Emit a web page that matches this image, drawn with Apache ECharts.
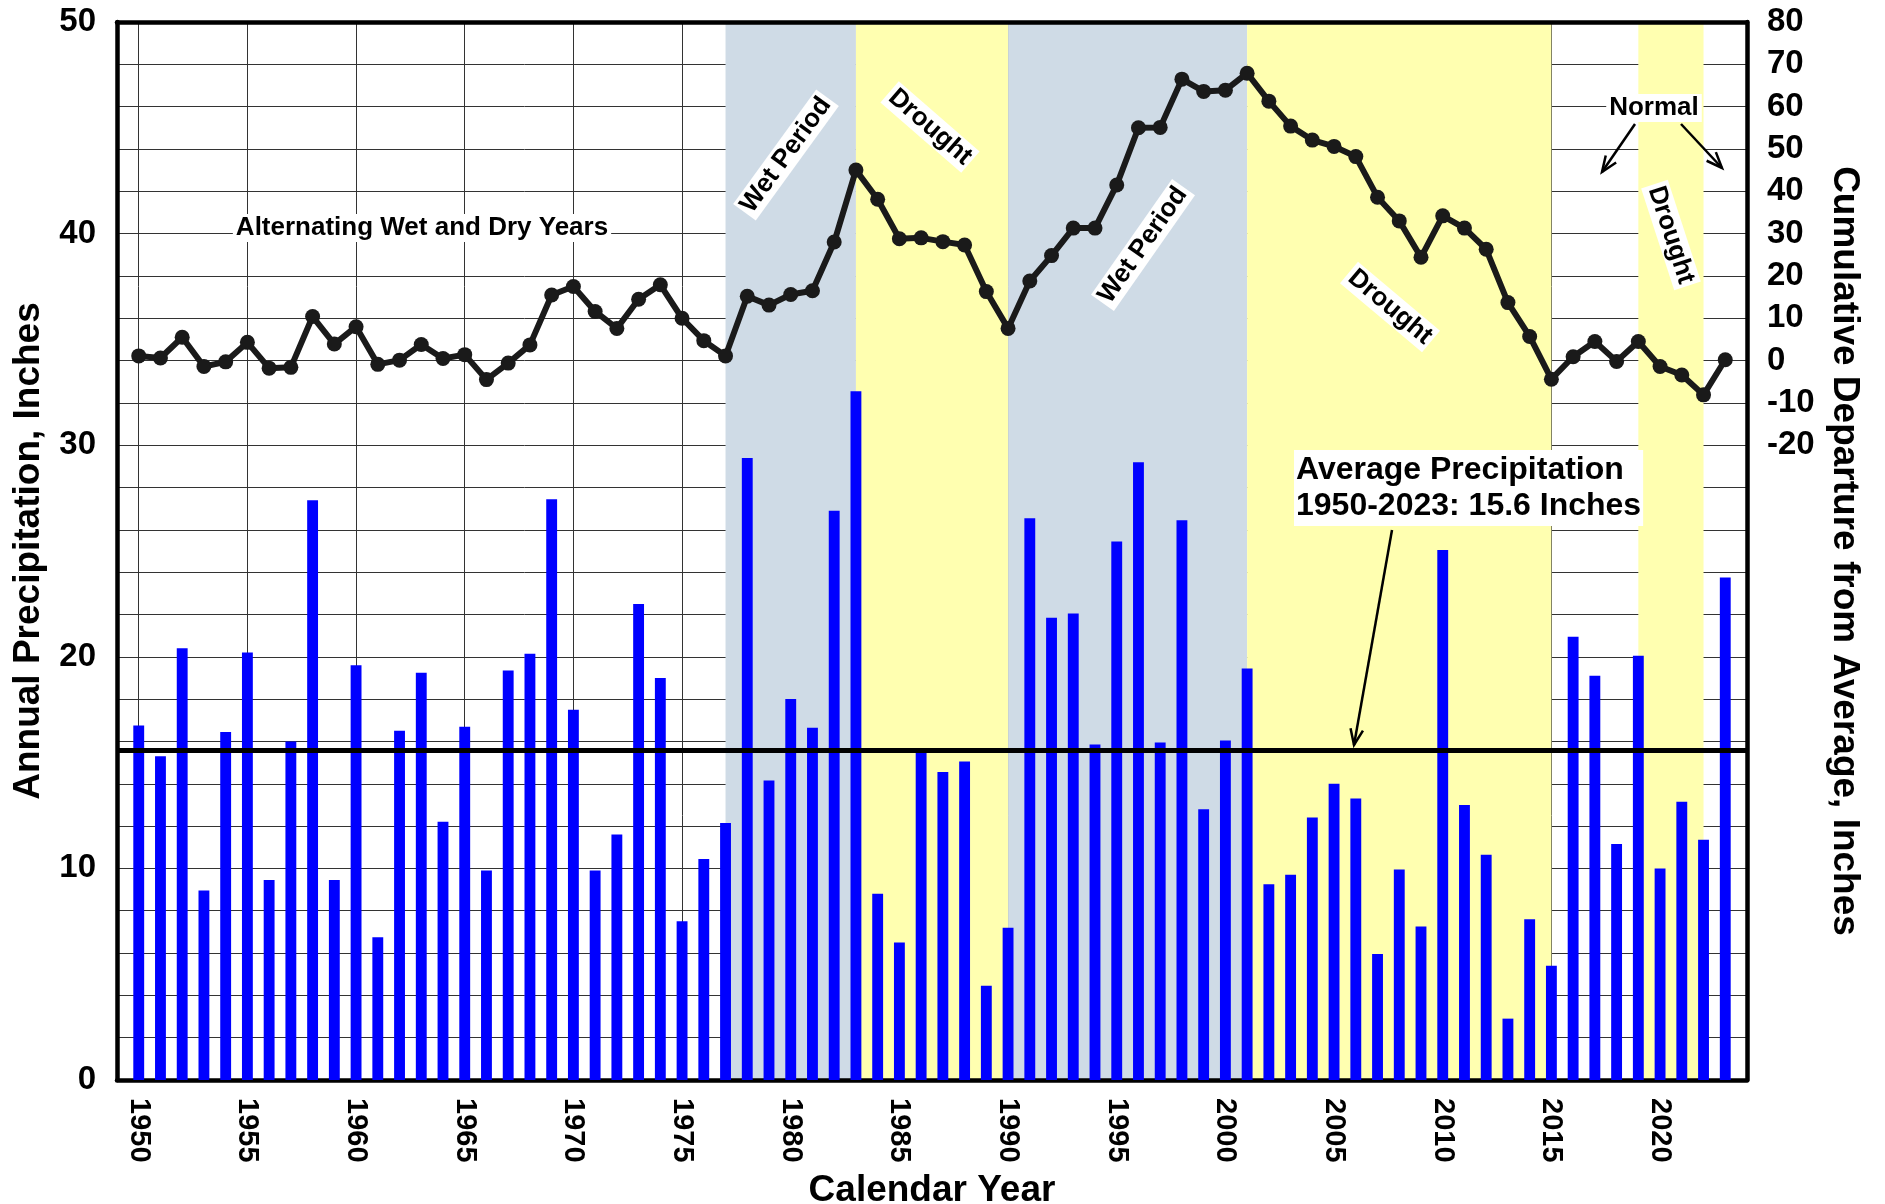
<!DOCTYPE html>
<html>
<head>
<meta charset="utf-8">
<script src="https://cdn.jsdelivr.net/npm/echarts@6/dist/echarts.min.js"></script>
<style>
  html, body { margin: 0; padding: 0; background: #fff; }
  #chart { width: 1885px; height: 1204px; }
</style>
</head>
<body>
<div id="chart"></div>
<script>
// calendar years on the x axis
const years = [
  '1950','1951','1952','1953','1954','1955','1956','1957','1958','1959',
  '1960','1961','1962','1963','1964','1965','1966','1967','1968','1969',
  '1970','1971','1972','1973','1974','1975','1976','1977','1978','1979',
  '1980','1981','1982','1983','1984','1985','1986','1987','1988','1989',
  '1990','1991','1992','1993','1994','1995','1996','1997','1998','1999',
  '2000','2001','2002','2003','2004','2005','2006','2007','2008','2009',
  '2010','2011','2012','2013','2014','2015','2016','2017','2018','2019',
  '2020','2021','2022','2023'
];

// annual precipitation, inches (bars, left axis)
const precipitation = [
  16.75, 15.3, 20.4, 8.95, 16.45, 20.2, 9.45, 16.0, 27.4, 9.45,
  19.6, 6.75, 16.5, 19.25, 12.2, 16.7, 9.9, 19.35, 20.15, 27.45,
  17.5, 9.9, 11.6, 22.5, 19.0, 7.5, 10.45, 12.15, 29.4, 14.15,
  18.0, 16.65, 26.9, 32.55, 8.8, 6.5, 15.5, 14.55, 15.05, 4.45,
  7.2, 26.55, 21.85, 22.05, 15.85, 25.45, 29.2, 15.95, 26.45, 12.8,
  16.05, 19.45, 9.25, 9.7, 12.4, 14.0, 13.3, 5.95, 9.95, 7.25,
  25.05, 13.0, 10.65, 2.9, 7.6, 5.4, 20.95, 19.1, 11.15, 20.05,
  10.0, 13.15, 11.35, 23.75
];

// cumulative departure from average, inches (line, right axis)
const cumulativeDeparture = [
  1.1, 0.6, 5.5, -1.4, -0.3, 4.3, -1.8, -1.6, 10.4, 3.9,
  8.0, -0.9, 0.1, 3.8, 0.5, 1.4, -4.5, -0.6, 3.7, 15.5,
  17.5, 11.6, 7.6, 14.5, 17.9, 10.0, 4.7, 1.1, 15.2, 13.1,
  15.6, 16.5, 28.0, 45.0, 38.1, 28.8, 29.0, 28.1, 27.3, 16.3,
  7.6, 18.8, 24.8, 31.3, 31.3, 41.5, 55.0, 55.1, 66.5, 63.6,
  63.9, 67.9, 61.3, 55.4, 52.1, 50.6, 48.2, 38.6, 33.0, 24.4,
  34.2, 31.3, 26.3, 13.7, 5.7, -4.4, 0.9, 4.5, -0.2, 4.5,
  -1.4, -3.4, -8.1, 0.2
];

const averagePrecip = 15.6;

// shaded periods (from / to year)
const wetPeriods = [['1977', '1983'], ['1990', '2001']];
const droughtPeriods = [['1983', '1990'], ['2001', '2015'], ['2019', '2022']];

const FONT = '"Liberation Sans", Arial, Helvetica, sans-serif';
const WET = '#cfdbe6';
const DRY = '#ffffb0';

// one empty slot each side so the frame sits a full year away from the first/last bar
const axisYears = [''].concat(years, ['']);
const pad = arr => [null].concat(arr, [null]);
const fiveYear = (i, v) => v !== '' && Number(v) % 5 === 0;

function note(text, x, y, deg, size) {
  return {
    type: 'text', x: x, y: y, rotation: deg * Math.PI / 180, z: 20, silent: true,
    style: {
      text: text, font: 'bold ' + size + 'px ' + FONT, fill: '#000',
      align: 'center', verticalAlign: 'middle',
      textAlign: 'center', textVerticalAlign: 'middle',
      backgroundColor: '#fff', padding: [1, 3]
    }
  };
}

function arrow(x1, y1, x2, y2) {
  const a = Math.atan2(y2 - y1, x2 - x1), len = 17, spread = 0.38;
  return {
    type: 'group', z: 20, silent: true,
    children: [
      { type: 'line', z: 20, shape: { x1: x1, y1: y1, x2: x2, y2: y2 }, style: { stroke: '#000', lineWidth: 2.5 } },
      { type: 'polyline', z: 20,
        shape: { points: [
          [x2 - len * Math.cos(a - spread), y2 - len * Math.sin(a - spread)],
          [x2, y2],
          [x2 - len * Math.cos(a + spread), y2 - len * Math.sin(a + spread)]
        ] },
        style: { stroke: '#000', lineWidth: 2.5, fill: null } }
    ]
  };
}

const chart = echarts.init(document.getElementById('chart'));

const axisName = { fontFamily: FONT, fontSize: 37, fontWeight: 'bold', color: '#000' };
const tickLabel = { fontFamily: FONT, fontSize: 33, fontWeight: 'bold', color: '#000' };
const yearLabel = { fontFamily: FONT, fontSize: 29, fontWeight: 'bold', color: '#000' };
const frame = { show: true, onZero: false, lineStyle: { color: '#000', width: 4.5 } };
const grid = { show: true, lineStyle: { color: '#333', width: 1 } };

const shading = wetPeriods.map(p => [{ xAxis: p[0], itemStyle: { color: WET } }, { xAxis: p[1] }])
  .concat(droughtPeriods.map(p => [{ xAxis: p[0], itemStyle: { color: DRY } }, { xAxis: p[1] }]));

chart.setOption({
  animation: false,
  backgroundColor: '#fff',
  textStyle: { fontFamily: FONT },
  grid: { left: 117, right: 138, top: 22, bottom: 124, containLabel: false, outerBoundsMode: 'none' },
  xAxis: [{
    type: 'category',
    data: axisYears,
    boundaryGap: false,
    z: 1,
    axisLine: frame,
    axisTick: { show: false },
    axisLabel: Object.assign({ interval: fiveYear, rotate: -90, margin: 18 }, yearLabel),
    splitLine: Object.assign({ interval: fiveYear }, grid),
    name: 'Calendar Year',
    nameLocation: 'middle',
    nameGap: 92,
    nameTextStyle: axisName
  }, {
    type: 'category',
    data: axisYears,
    boundaryGap: false,
    position: 'top',
    z: 1,
    axisLine: frame,
    axisTick: { show: false },
    axisLabel: { show: false },
    splitLine: { show: false }
  }],
  yAxis: [{
    type: 'value',
    min: 0, max: 50, interval: 10,
    position: 'left',
    z: 1,
    axisLine: frame,
    axisTick: { show: false },
    axisLabel: Object.assign({ margin: 21 }, tickLabel),
    splitLine: { show: false },
    name: 'Annual Precipitation, Inches',
    nameLocation: 'middle',
    nameRotate: 90,
    nameGap: 70,
    nameTextStyle: axisName
  }, {
    type: 'value',
    min: -170, max: 80, interval: 10,
    position: 'right',
    z: 1,
    axisLine: frame,
    axisTick: { show: false },
    axisLabel: Object.assign({ margin: 20, formatter: v => (v >= -20 ? String(v) : '') }, tickLabel),
    splitLine: grid,
    name: 'Cumulative Departure from Average, Inches',
    nameLocation: 'middle',
    nameRotate: -90,
    nameGap: 71,
    nameTextStyle: axisName
  }],
  series: [{
    name: 'periods',
    type: 'line',
    data: [],
    z: 0,
    silent: true,
    markArea: { silent: true, data: shading }
  }, {
    name: 'Annual Precipitation',
    type: 'bar',
    data: pad(precipitation),
    barWidth: '50%',
    z: 2,
    itemStyle: { color: '#0000ff' },
    markLine: {
      silent: true,
      symbol: 'none',
      label: { show: false },
      lineStyle: { color: '#000', width: 5, type: 'solid' },
      data: [{ yAxis: averagePrecip }]
    }
  }, {
    name: 'Cumulative Departure',
    type: 'line',
    yAxisIndex: 1,
    data: pad(cumulativeDeparture),
    z: 3,
    symbol: 'circle',
    symbolSize: 15,
    showSymbol: true,
    showAllSymbol: true,
    lineStyle: { color: '#1a1a1a', width: 6 },
    itemStyle: { color: '#1a1a1a' }
  }],
  graphic: [
    note('Alternating Wet and Dry Years', 422, 228, 0, 26),
    note('Wet Period', 786, 155, 54, 26),
    note('Drought', 930, 127, -41, 26),
    note('Wet Period', 1143, 245, 55, 26),
    note('Drought', 1390, 307, -40, 26),
    note('Drought', 1671, 235, -72, 26),
    note('Normal', 1654, 108, 0, 26),
    arrow(1635, 124, 1602, 172),
    arrow(1681, 124, 1722, 168),
    {
      type: 'text', x: 1294, y: 488, z: 20, silent: true,
      style: {
        text: 'Average Precipitation\n1950-2023: 15.6 Inches',
        font: 'bold 32px ' + FONT, fill: '#000',
        align: 'left', verticalAlign: 'middle',
        textAlign: 'left', textVerticalAlign: 'middle',
        lineHeight: 36, backgroundColor: '#fff', padding: [2, 2]
      }
    },
    arrow(1392, 530, 1354, 745)
  ]
});
</script>
</body>
</html>
